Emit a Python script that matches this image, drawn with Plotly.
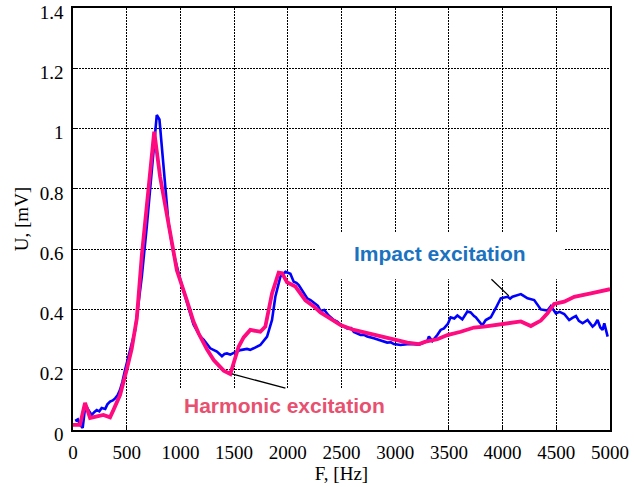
import plotly.graph_objects as go

# Frequency response of the plate: harmonic sweep vs. impact hammer
freq_harmonic = [0, 65, 112, 159, 283, 345, 376, 438, 500, 547, 594, 641, 703, 756,
                 811, 874, 967, 1060, 1122, 1170, 1210, 1247, 1310, 1371, 1403, 1465,
                 1496, 1542, 1589, 1651, 1744, 1791, 1853, 1915, 1947, 1993, 2071,
                 2117, 2164, 2242, 2304, 2367, 2491, 2615, 2740, 2864, 2988, 3113,
                 3221, 3283, 3392, 3486, 3610, 3734, 3827, 3983, 4170, 4263, 4356,
                 4418, 4480, 4574, 4667, 4822, 5000]
u_harmonic = [0.017, 0.017, 0.090, 0.040, 0.050, 0.042, 0.066, 0.116, 0.200, 0.270,
              0.370, 0.580, 0.800, 0.990, 0.840, 0.720, 0.530, 0.430, 0.360, 0.320,
              0.290, 0.268, 0.232, 0.207, 0.197, 0.186, 0.221, 0.276, 0.307, 0.332,
              0.326, 0.343, 0.453, 0.522, 0.520, 0.490, 0.476, 0.453, 0.430, 0.410,
              0.390, 0.376, 0.348, 0.332, 0.321, 0.312, 0.300, 0.290, 0.285, 0.293,
              0.301, 0.315, 0.326, 0.340, 0.343, 0.352, 0.360, 0.345, 0.363, 0.387,
              0.418, 0.426, 0.442, 0.453, 0.467]

freq_impact = [20, 45, 65, 90, 112, 130, 143, 174, 200, 221, 245, 267, 300, 320, 345,
               370, 392, 415, 438, 460, 485, 532, 563, 578, 610, 641, 687, 734, 765,
               780, 805, 827, 858, 889, 936, 998, 1091, 1122, 1185, 1216, 1278, 1340,
               1387, 1410, 1434, 1465, 1496, 1530, 1558, 1620, 1650, 1682, 1744, 1807,
               1853, 1884, 1931, 1978, 2024, 2055, 2080, 2102, 2148, 2180, 2211, 2257,
               2280, 2304, 2340, 2380, 2428, 2460, 2490, 2553, 2590, 2615, 2677, 2710,
               2740, 2801, 2840, 2864, 2926, 2960, 2988, 3050, 3112, 3174, 3221, 3268,
               3300, 3314, 3345, 3392, 3423, 3454, 3490, 3516, 3550, 3579, 3625, 3672,
               3703, 3734, 3750, 3796, 3812, 3843, 3890, 3936, 3983, 4045, 4070, 4092,
               4130, 4170, 4200, 4232, 4294, 4356, 4418, 4449, 4496, 4530, 4574, 4620,
               4650, 4683, 4710, 4745, 4791, 4838, 4860, 4884, 4910, 4931, 4947, 4978]
u_impact = [0.030, 0.035, 0.017, 0.007, 0.073, 0.075, 0.066, 0.050, 0.060, 0.066,
            0.062, 0.073, 0.070, 0.085, 0.094, 0.098, 0.105, 0.115, 0.133, 0.160,
            0.200, 0.265, 0.310, 0.330, 0.420, 0.510, 0.675, 0.874, 1.006, 1.045,
            1.030, 0.940, 0.785, 0.686, 0.586, 0.500, 0.387, 0.350, 0.310, 0.300,
            0.271, 0.260, 0.245, 0.252, 0.254, 0.250, 0.256, 0.262, 0.265, 0.269,
            0.266, 0.271, 0.282, 0.310, 0.365, 0.442, 0.509, 0.525, 0.518, 0.492,
            0.488, 0.481, 0.453, 0.437, 0.431, 0.420, 0.412, 0.395, 0.398, 0.380,
            0.365, 0.360, 0.350, 0.337, 0.338, 0.325, 0.315, 0.316, 0.310, 0.304,
            0.300, 0.295, 0.290, 0.291, 0.285, 0.282, 0.285, 0.285, 0.283, 0.290,
            0.296, 0.310, 0.295, 0.315, 0.332, 0.337, 0.352, 0.374, 0.370, 0.380,
            0.367, 0.393, 0.390, 0.378, 0.374, 0.354, 0.348, 0.365, 0.374, 0.404,
            0.437, 0.442, 0.436, 0.442, 0.446, 0.451, 0.444, 0.437, 0.431, 0.400,
            0.396, 0.411, 0.387, 0.392, 0.385, 0.365, 0.372, 0.378, 0.362, 0.354,
            0.365, 0.343, 0.350, 0.365, 0.340, 0.332, 0.354, 0.310]

x_ticks = [0, 500, 1000, 1500, 2000, 2500, 3000, 3500, 4000, 4500, 5000]
x_ticktext = ["0", "500", "1000", "1500", "2000", "2500", "3000", "3500", "4000",
              "4500", "5000"]
y_ticks = [0, 0.2, 0.4, 0.6, 0.8, 1.0, 1.2, 1.4]
y_ticktext = ["0", "0.2", "0.4", "0.6", "0.8", "1", "1.2", "1.4"]

label_impact = "Impact excitation"
label_harmonic = "Harmonic excitation"

serif = "Liberation Serif, Times New Roman, serif"
sans = "Liberation Sans, Arial, sans-serif"

fig = go.Figure()
fig.add_trace(go.Scatter(x=freq_impact, y=u_impact, mode="lines",
                         line=dict(color="#0000ff", width=2.6), name=label_impact))
fig.add_trace(go.Scatter(x=freq_harmonic, y=u_harmonic, mode="lines",
                         line=dict(color="#ff0a7f", width=3.8), name=label_harmonic))

# white label panels that interrupt the grid (they sit clear of the curves)
fig.add_shape(type="rect", x0=2257, x1=4571, y0=0.50, y1=0.654, xref="x", yref="y",
              fillcolor="white", line=dict(width=0), layer="above")
fig.add_shape(type="rect", x0=812, x1=3237, y0=0.0, y1=0.136, xref="x", yref="y",
              fillcolor="white", line=dict(width=0), layer="above")

# leader lines from the labels to the curves
fig.add_shape(type="line", x0=3896, y0=0.50, x1=4058, y1=0.445, xref="x", yref="y",
              line=dict(color="black", width=1.3), layer="above")
fig.add_shape(type="line", x0=1480, y0=0.186, x1=1978, y1=0.139, xref="x", yref="y",
              line=dict(color="black", width=1.3), layer="above")

fig.add_annotation(x=3414, y=0.587, xref="x", yref="y", text=label_impact,
                   showarrow=False,
                   font=dict(family=sans, size=21, color="#1a72c0", weight="bold"))
fig.add_annotation(x=1973, y=0.080, xref="x", yref="y", text=label_harmonic,
                   showarrow=False,
                   font=dict(family=sans, size=21, color="#e8506f", weight="bold"))

fig.update_layout(
    width=634, height=487,
    margin=dict(l=73, r=24, t=8, b=57),
    paper_bgcolor="white", plot_bgcolor="white",
    showlegend=False,
    font=dict(family=serif, size=19, color="black"),
    xaxis=dict(range=[0, 5000], tickvals=x_ticks, ticktext=x_ticktext,
               showgrid=True, gridcolor="#000", gridwidth=1, griddash="2px,1px",
               showline=True, linecolor="black", linewidth=1.5, mirror=True,
               ticks="inside", ticklen=5, tickcolor="black", zeroline=False,
               ticklabelstandoff=4, ticklabeloverflow="allow", automargin=False,
               title=dict(text="F, [Hz]", font=dict(family=serif, size=19),
                          standoff=0)),
    yaxis=dict(range=[0, 1.4], tickvals=y_ticks, ticktext=y_ticktext,
               showgrid=True, gridcolor="#000", gridwidth=1, griddash="2px,1px",
               showline=True, linecolor="black", linewidth=1.5, mirror=True,
               ticks="inside", ticklen=5, tickcolor="black", zeroline=False,
               ticklabelstandoff=4, ticklabeloverflow="allow", ticklabelshift=4,
               automargin=False,
               title=dict(text="U, [mV]", font=dict(family=serif, size=19),
                          standoff=6)),
)

fig.write_html("out.html")
